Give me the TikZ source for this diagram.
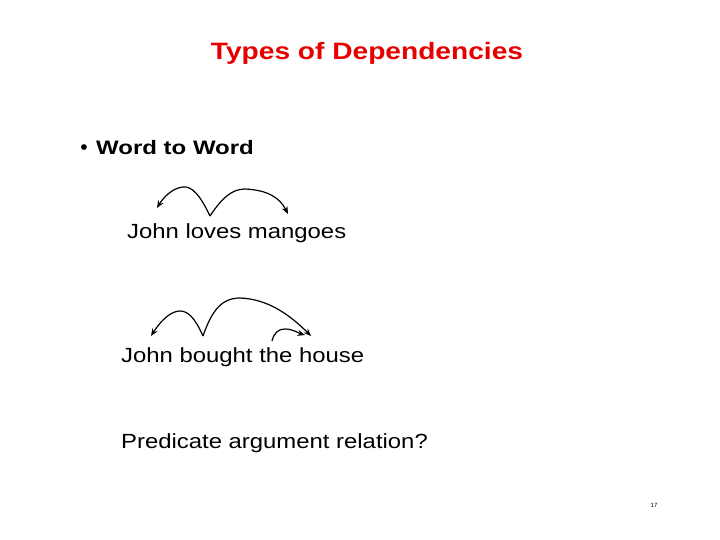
\documentclass[tikz,border=0pt]{standalone}
\usepackage{graphicx}
\usepackage{fontspec}
\setmainfont{Liberation Sans}
\usetikzlibrary{arrows.meta}
\definecolor{titlered}{RGB}{230,0,0}
\newcommand{\wid}[1]{\scalebox{1.165}[1]{#1}}
\begin{document}
\begin{tikzpicture}[x=1pt,y=-1pt,
  txt/.style={anchor=base west,inner sep=0pt,font=\fontsize{20.5}{24}\selectfont},
  dep/.style={line width=1.2pt,-{Stealth[length=7.5pt,width=6pt]}}]
\useasboundingbox[fill=white] (0,0) rectangle (720,540);
\node[anchor=base,inner sep=0pt,text=titlered,font=\fontsize{23.7}{28}\bfseries] (title) at (367,60) {\scalebox{1.187}[1]{Types of Dependencies}};
\node[anchor=base,inner sep=0pt,font=\fontsize{21}{24}\selectfont] (bul) at (84,155) {\textbullet};
\node[txt,font=\fontsize{19.5}{24}\bfseries] (w2w) at (96,155) {\scalebox{1.23}[1]{Word to Word}};
\node[txt] (s1) at (127,239) {\wid{John loves mangoes}};
\node[txt] (s2) at (121,362) {\wid{John bought the house}};
\node[txt] (q) at (121,448) {\wid{Predicate argument relation?}};
\node[anchor=base,inner sep=0pt,font=\fontsize{6}{7}\selectfont] (pg) at (654,507) {17};
% sentence 1
\coordinate (v1) at (210,216);
\coordinate (a1) at (157,208);
\coordinate (b1) at (288,214);
\draw[dep] (v1) .. controls (200,195) and (192,186) .. (183,187) .. controls (172,188) and (163,198) .. (a1);
\draw[dep] (v1) .. controls (222,198) and (232,189) .. (245,189) .. controls (268,190) and (280,198) .. (b1);
% sentence 2
\coordinate (v2) at (203,336);
\coordinate (a2) at (151,336);
\coordinate (b2) at (311,336);
\coordinate (c2) at (272,341);
\draw[dep] (v2) .. controls (195,318) and (188,311) .. (180,311) .. controls (170,311) and (160,322) .. (a2);
\draw[dep] (v2) .. controls (212,310) and (222,298) .. (240,298) .. controls (268,299) and (290,315) .. (b2);
\draw[dep] (c2) .. controls (274,333) and (278,329) .. (285,329) .. controls (293,329) and (298,333) .. (305,335);
\end{tikzpicture}
\end{document}
